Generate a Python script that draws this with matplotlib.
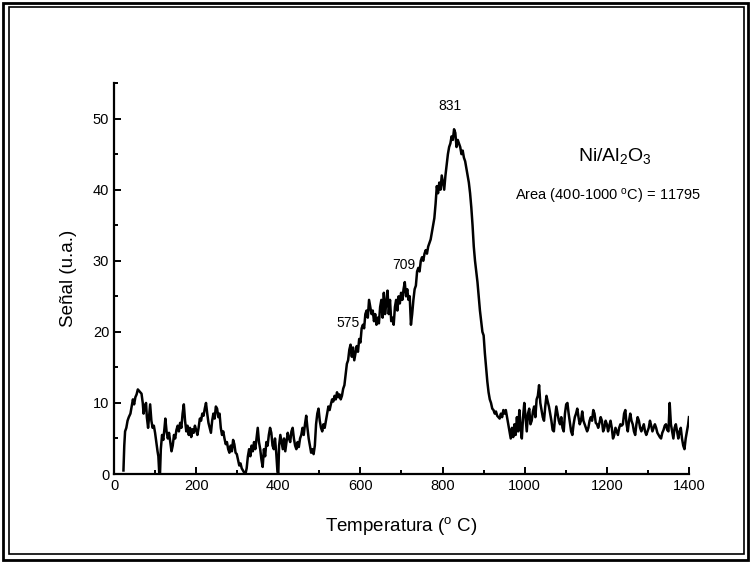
import matplotlib
matplotlib.use("Agg")
import matplotlib.pyplot as plt
from matplotlib.patches import Rectangle
from matplotlib.ticker import MultipleLocator

plt.rcParams['font.family'] = ['Liberation Sans', 'DejaVu Sans']
plt.rcParams['mathtext.fontset'] = 'custom'
plt.rcParams['mathtext.rm'] = 'Liberation Sans'
plt.rcParams['mathtext.it'] = 'Liberation Sans'

temperature = [
    23, 25, 27, 30, 33, 36, 40, 43, 46, 49, 52, 55, 58, 61, 64, 67, 70, 72, 75, 78, 80, 83, 86, 88, 91, 94, 97,
    100, 103, 106, 108, 110, 112, 114, 117,
    120, 123, 125, 128, 131, 134, 137, 140, 143, 146, 149, 152, 155, 158, 161, 164, 167, 170, 173, 176, 179,
    182, 185, 188, 191, 194, 197, 200, 203, 206, 209, 212, 215, 218, 221, 224, 227, 230, 233, 236, 239, 242,
    245, 248, 251, 254, 257, 260, 263, 266, 269, 272, 275, 278, 281, 284, 287, 290, 293, 296, 299, 302, 305,
    308, 311, 314, 317, 320, 323, 326, 329, 332, 335, 338, 341, 344, 347, 350, 353, 356, 359, 362, 365, 368,
    371, 374, 377, 380, 383, 386, 389, 392, 395, 398, 400, 402, 405, 408, 411, 414, 417, 420, 423, 426, 429,
    432, 435, 438, 441, 444, 447, 450, 453, 456, 459, 462, 465, 468, 471, 474, 477, 480, 483, 486, 489, 492,
    495, 498, 501, 504, 507, 510, 513, 516, 519, 522, 525, 528, 531, 534, 537, 540, 543, 546, 549, 552, 555,
    558, 561, 564, 567, 570, 573, 576, 579, 582, 585, 588, 591, 594, 597, 600, 603, 606, 609, 612, 615, 618,
    621, 624, 627, 630, 633, 636, 639, 642, 645, 648, 651, 654, 657, 660, 663, 666, 669, 672, 675, 678, 681,
    684, 687, 690, 693, 696, 699, 702, 705, 708, 711, 714, 717, 720, 723, 726, 729, 732, 735, 738, 741, 744,
    747, 750, 753, 756, 759, 762, 765, 768, 771, 774, 777, 780, 783, 786, 789, 792, 795, 798, 801, 804, 807,
    810, 813, 816, 819, 822, 825, 828, 831, 834, 837, 840, 843, 846, 849, 852, 855, 858, 861, 864, 867, 870,
    873, 876, 879, 882, 885, 888, 891, 894, 897, 900, 903, 906, 909, 912, 915, 918, 921, 924, 927, 930, 933,
    936, 939, 942, 945, 948, 951, 954, 957, 960, 963, 966, 969, 972, 975, 978, 981, 984, 987, 990, 993, 996,
    999, 1002, 1005, 1008, 1011, 1014, 1017, 1020, 1023, 1026, 1029, 1032, 1035, 1038, 1041, 1044, 1047, 1050,
    1053, 1056, 1059, 1062, 1065, 1068, 1071, 1074, 1077, 1080, 1083, 1086, 1089, 1092, 1095, 1098, 1101, 1104,
    1107, 1110, 1113, 1116, 1119, 1122, 1125, 1128, 1131, 1134, 1137, 1140, 1143, 1146, 1149, 1152, 1155, 1158,
    1161, 1164, 1167, 1170, 1173, 1176, 1179, 1182, 1185, 1188, 1191, 1194, 1197, 1200, 1203, 1206, 1209, 1212,
    1215, 1218, 1221, 1224, 1227, 1230, 1233, 1236, 1239, 1242, 1245, 1248, 1251, 1254, 1257, 1260, 1263, 1266,
    1269, 1272, 1275, 1278, 1281, 1284, 1287, 1290, 1293, 1296, 1299, 1302, 1305, 1308, 1311, 1314, 1317, 1320,
    1323, 1326, 1329, 1332, 1335, 1338, 1341, 1344, 1347, 1350, 1353, 1356, 1359, 1362, 1365, 1368, 1371, 1374,
    1377, 1380, 1383, 1386, 1389, 1392, 1395, 1398, 1400]

signal = [
    0.5, 4, 6, 6.5, 7.5, 8, 8.5, 9.5, 10.5, 9.8, 10.8, 11.2, 11.9, 11.7, 11.5, 11.3, 10, 8.5, 9.5, 10, 8, 6.5, 8.5, 9.8, 7.5, 6.5, 6.8,
    5.8, 4.5, 3.2, 2.5, 0.3, 0, 3.5, 5.5,
    4.8, 6.5, 7.8, 6, 5, 5.8, 4.5, 3.2, 4, 5.5, 5, 6.2, 6.8, 6, 7.2, 6.5, 8.5, 9.8, 7.5, 6, 6.8,
    5.5, 6.5, 5.2, 6.3, 5.8, 6.8, 6.2, 5.5, 6.5, 7.8, 7.5, 8.5, 8.2, 9.2, 10, 8.5, 7.2, 6.5, 5.8, 7.5, 8.5,
    7.8, 9.5, 9.2, 8, 8.5, 6.5, 5.5, 6, 5, 4.2, 4.5, 3.5, 3, 4, 3.2, 4.8, 4.2, 3, 2.8, 2, 1.2,
    1.5, 0.8, 0.5, 0.2, 0, 0.8, 2.5, 3.5, 2.5, 4, 3.2, 4.5, 3.5, 5, 6.5, 4.5, 3.5, 2, 1, 3.5, 2.5,
    4.5, 4, 5.5, 6.5, 5.8, 4, 3.5, 5, 3, 0.3, 0, 4, 5.5, 4.5, 3.5, 5, 3.2, 4.5, 5.8, 5, 4.5,
    6, 6.5, 5, 4, 3.5, 4.5, 3.8, 5, 5.5, 6.5, 5.5, 7, 8.2, 6.5, 5, 4, 3, 3.5, 2.8, 4, 7,
    8.5, 9.2, 7.5, 6.5, 6, 7, 6.5, 7.5, 8.5, 9.5, 9, 9.8, 10.5, 10.2, 11, 10.5, 11.5, 10.8, 11.2, 10.5, 11,
    12, 12.5, 14, 15.5, 16, 17.5, 18.2, 16.5, 17.8, 16, 17, 18, 17.2, 19, 18.5, 20.5, 21, 20.5, 22.5, 23, 22,
    24.5, 23.5, 22.5, 23, 21.5, 22.5, 21, 22, 21.2, 23.5, 24.5, 22, 25.5, 22.5, 24, 25.8, 22.5, 24.5, 21.5, 22, 21,
    23.5, 24.5, 23, 25, 24, 25.5, 24.5, 26, 27, 25, 26, 24.5, 25, 21, 22.5, 24.5, 26, 26.5, 28.5, 29, 28.5,
    30, 30.5, 30, 31, 31.5, 31, 32, 32.5, 33, 34, 35, 36, 38, 40.5, 39.5, 41, 40, 42, 41, 40, 42,
    43.5, 45, 46, 46.5, 47.5, 47, 48.5, 48, 46, 47, 46.5, 46, 45, 45.5, 44.5, 44, 43, 42, 41, 39.5, 37.5,
    35, 32, 30, 28.5, 27, 25, 23, 21.5, 20, 19.5, 17, 15, 13, 11.5, 10.5, 10, 9.2, 9, 8.5, 8.8, 8.2,
    8, 7.8, 8.5, 8, 9, 8.5, 9, 8, 7, 6, 5, 6.5, 5.2, 7, 5.5, 8, 6, 9, 6.5, 5, 8,
    10, 8, 6, 8.5, 9.2, 7, 7.5, 8.8, 9.5, 8, 10.5, 11, 12.5, 10, 9, 8, 7.5, 9.5,
    11, 10.2, 9.5, 8.5, 7.5, 6.2, 6, 8, 9.5, 8.5, 7.5, 7, 8, 6.5, 6, 8.5, 9.8, 10,
    8.5, 7.2, 6, 5.5, 7, 8, 8.5, 9.2, 8, 7, 7.5, 8.8, 7.5, 7, 6.5, 6, 6.5, 7.5,
    8, 7.5, 9, 8.5, 7.2, 7, 6.5, 7.2, 8, 7.5, 6, 6.5, 7.5, 7, 6, 6.8, 7.5, 6.5,
    5, 5.5, 6.5, 6, 5.5, 6.5, 7, 6.8, 7, 8.5, 9, 7, 6, 7.5, 8.5, 7.5, 7, 6,
    5.5, 7, 8, 7.5, 6.5, 6, 6.5, 7, 6, 5.5, 6, 6.5, 7.5, 6.8, 6, 6.5, 7, 6.5,
    5.8, 5.5, 5.2, 5, 5.8, 6.2, 6.8, 7, 6.2, 6, 10, 7, 6, 5, 6.5, 7, 6, 5,
    6, 6.5, 5, 4, 3.5, 5, 6, 7, 8]

peak_labels = ["575", "709", "831"]
peak_label_x = [570, 705, 817]
peak_label_y = [21.2, 29.4, 51.8]

fig = plt.figure(figsize=(7.52, 5.65), dpi=100)
ax = fig.add_axes([0.1516, 0.161, 0.7646, 0.692])

ax.plot(temperature, signal, color='black', lw=1.8)

ax.set_xlim(0, 1400)
ax.set_ylim(0, 55)
ax.spines['top'].set_visible(False)
ax.spines['right'].set_visible(False)
ax.spines['left'].set_linewidth(1.6)
ax.spines['bottom'].set_linewidth(1.6)
ax.xaxis.set_major_locator(MultipleLocator(200))
ax.xaxis.set_minor_locator(MultipleLocator(100))
ax.yaxis.set_major_locator(MultipleLocator(10))
ax.yaxis.set_minor_locator(MultipleLocator(5))
ax.tick_params(which='both', direction='in', width=1.4)
ax.tick_params(which='major', length=5, labelsize=10.5)
ax.tick_params(which='minor', length=3)

ax.set_xlabel(r'Temperatura ($^{\rm o}$ C)', fontsize=13.5, labelpad=16)
ax.set_ylabel('Señal (u.a.)', fontsize=13.5, labelpad=11)

for lab, x, y in zip(peak_labels, peak_label_x, peak_label_y):
    ax.text(x, y, lab, ha='center', va='center', fontsize=10)

ax.text(1220, 44.8, r'Ni/Al$_2$O$_3$', ha='center', va='center', fontsize=14)
ax.text(1203, 39.0, r'Area (400-1000 $^{\rm o}$C) = 11795', ha='center', va='center', fontsize=10.5)

fig.patches.append(Rectangle((3/752, 1 - 560/565), 745/752, 557/565, transform=fig.transFigure,
                             fill=False, edgecolor='black', lw=2))
fig.patches.append(Rectangle((9/752, 1 - 554/565), 735/752, 547/565, transform=fig.transFigure,
                             fill=False, edgecolor='black', lw=1.2))

fig.savefig('out.png', dpi=100)
